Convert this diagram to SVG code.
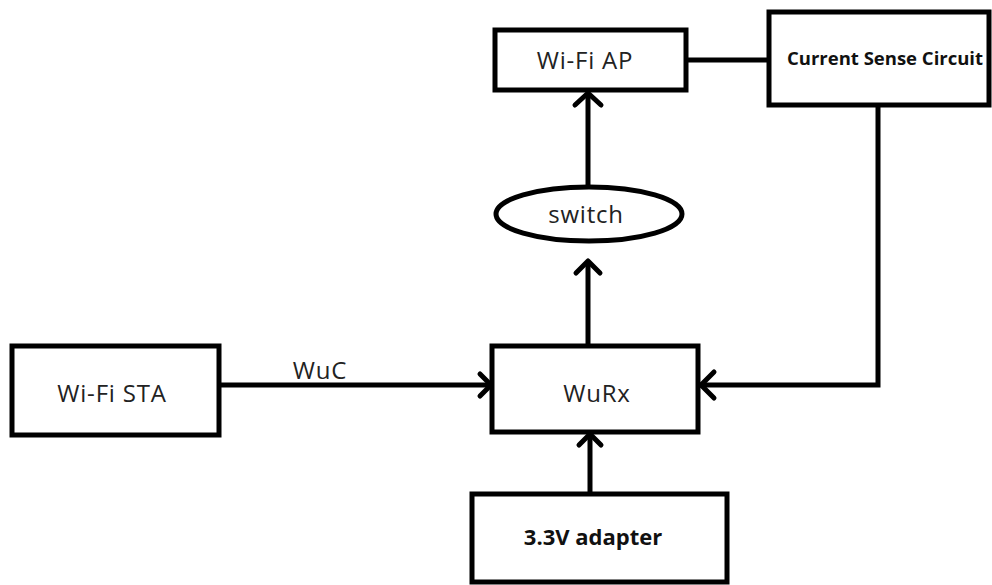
<svg xmlns="http://www.w3.org/2000/svg" width="992" height="585" viewBox="0 0 992 585">
<style>
.box{fill:#fff;stroke:#000;stroke-width:5}
.ln{fill:none;stroke:#000;stroke-width:5}
.ah{fill:none;stroke:#000;stroke-width:5;stroke-linecap:round;stroke-linejoin:round}
.t{font-family:"Open Sans","Noto Sans",sans-serif;font-size:24px;letter-spacing:0.8px;fill:#222;text-anchor:middle}
.b{font-family:"Open Sans","Noto Sans",sans-serif;font-weight:bold;fill:#111;text-anchor:middle}
</style>
<rect width="992" height="585" fill="#fff"/>
<g id="connectors">
<line class="ln" x1="688" y1="60" x2="769" y2="60" stroke-width="7"/>
<polyline class="ln" points="878,105 878,385 700,385" stroke-width="6"/>
<polyline class="ah" points="714,372 701,385 714,398"/>
<line class="ln" x1="220" y1="385" x2="491" y2="385"/>
<polyline class="ah" points="480,374 491,385 480,396"/>
<line class="ln" x1="588" y1="345" x2="588" y2="262"/>
<polyline class="ah" points="576,273 588,261 600,273"/>
<line class="ln" x1="588" y1="188" x2="588" y2="93"/>
<polyline class="ah" points="575,105 588,93 601,105"/>
<line class="ln" x1="590" y1="493" x2="590" y2="434"/>
<polyline class="ah" points="579,445 590,434 601,445"/>
<text class="t" x="320" y="379">WuC</text>
</g>
<g id="wifi-ap">
<rect class="box" x="495" y="30" width="191" height="60"/>
<text class="t" x="585" y="69">Wi-Fi AP</text>
</g>
<g id="current-sense">
<rect class="box" x="769" y="12" width="220" height="93"/>
<text class="b" x="885" y="65" font-size="18.5">Current Sense Circuit</text>
</g>
<g id="switch">
<ellipse class="box" cx="589" cy="214" rx="93" ry="27"/>
<text class="t" x="586" y="223">switch</text>
</g>
<g id="wifi-sta">
<rect class="box" x="12" y="346" width="207" height="89"/>
<text class="t" x="112" y="402">Wi-Fi STA</text>
</g>
<g id="wurx">
<rect class="box" x="492" y="346" width="206" height="86"/>
<text class="t" x="597" y="402">WuRx</text>
</g>
<g id="adapter">
<rect class="box" x="472" y="494" width="255" height="88"/>
<text class="b" x="593" y="545" font-size="22">3.3V adapter</text>
</g>
</svg>
